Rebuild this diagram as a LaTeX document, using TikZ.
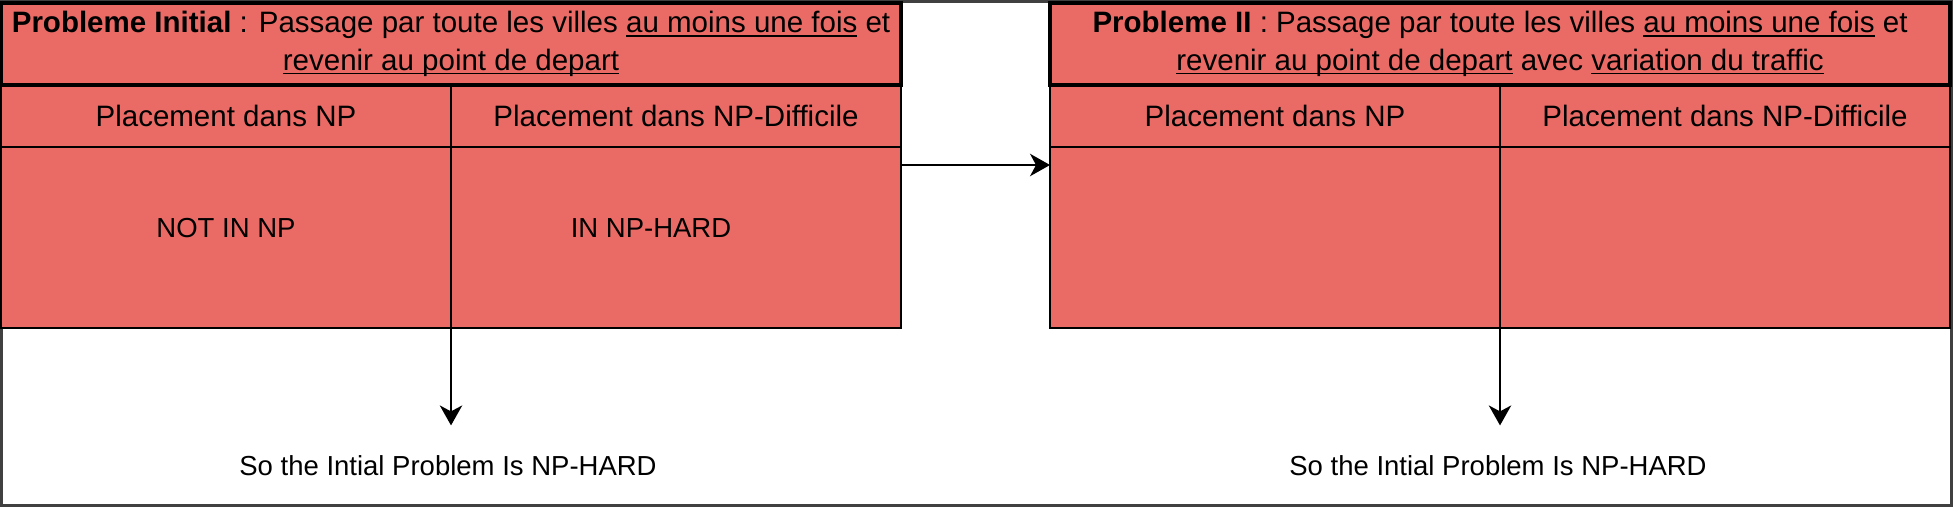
\documentclass[tikz,border=0pt]{standalone}
\usepackage{fontspec}
\setmainfont{Liberation Sans}
\usetikzlibrary{positioning,arrows.meta}
\definecolor{cellred}{HTML}{EA6B66}
\newsavebox\ulbox
\newcommand\ulw[1]{\sbox\ulbox{#1}\rlap{\rule[-1.6pt]{\wd\ulbox}{0.6pt}}\usebox\ulbox}
\tikzset{
  cell/.style={draw=black, line width=0.6pt, fill=cellred, inner sep=0pt, outer sep=0pt, align=center},
  titlebox/.style={cell, line width=1.4pt, minimum width=360pt, minimum height=32.8pt},
  headcell/.style={cell, minimum width=180pt, minimum height=24.8pt, text height=8.4pt, text depth=0pt},
  bodycell/.style={cell, minimum width=180pt, minimum height=72.4pt},
  celltext/.style={inner sep=0pt, font=\fontsize{11}{13}\selectfont},
  flow/.style={-{Stealth[length=8pt,width=9pt,inset=2.4pt]}, line width=0.6pt},
}

\begin{document}
\begin{tikzpicture}[x=0.4pt, y=-0.4pt, font=\fontsize{11.8}{15}\selectfont]
                \useasboundingbox (0,0) rectangle (1953,507);
                \draw[black!75, line width=1.2pt] (1.5,1.5) rectangle (1951.5,505.5);
                \coordinate (A) at (1,85);
                \coordinate (B) at (1050,85);
                % first problem
                \node[headcell, anchor=north west] (hA1) at (A) {Placement dans NP};
                \node[headcell, right=0pt of hA1] (hA2) {Placement dans NP-Difficile};
                \node[bodycell, below=0pt of hA1] (bA1) {};
                \node[bodycell, below=0pt of hA2] (bA2) {};
                \node[titlebox, above right=0pt and 0pt of hA1.north west] (tA) {\textbf{Probleme Initial} : Passage par toute les villes \ulw{au moins une fois} et\\ \ulw{revenir au point de depart}};
                \node[celltext] (nA1) at ([yshift=3.8pt]bA1.center) {NOT IN NP};
                \node[celltext] (nA2) at ([xshift=-10pt, yshift=3.8pt]bA2.center) {IN NP-HARD};
                % second problem
                \node[headcell, anchor=north west] (hB1) at (B) {Placement dans NP};
                \node[headcell, right=0pt of hB1] (hB2) {Placement dans NP-Difficile};
                \node[bodycell, below=0pt of hB1] (bB1) {};
                \node[bodycell, below=0pt of hB2] (bB2) {};
                \node[titlebox, above right=0pt and 0pt of hB1.north west] (tB) {\textbf{Probleme II} : Passage par toute les villes \ulw{au moins une fois} et\\ \ulw{revenir au point de depart} avec \ulw{variation du traffic}};
                % conclusions
                \node[celltext] (cA) at (448,466) {So the Intial Problem Is NP-HARD};
                \node[celltext] (cB) at (1498,466) {So the Intial Problem Is NP-HARD};
                \draw[flow] ([yshift=-7.2pt]bA2.north east) -- ([yshift=-7.2pt]bB1.north west);
                \draw[flow, shorten >=12pt] (bA1.south east) -- (bA1.south east |- cA.north);
                \draw[flow, shorten >=12pt] (bB1.south east) -- (bB1.south east |- cB.north);
            \end{tikzpicture}
\end{document}
